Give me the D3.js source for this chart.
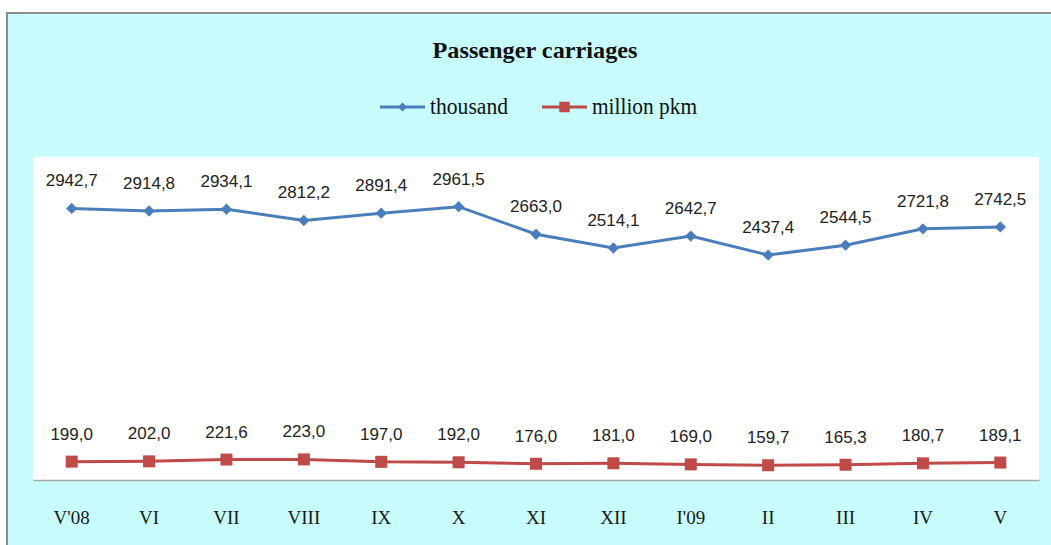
<!DOCTYPE html>
<html>
<head>
<meta charset="utf-8">
<script src="https://cdn.jsdelivr.net/npm/d3@7"></script>
<style>
  body { margin: 0; background: #fff; }
</style>
</head>
<body>
<div id="chart"></div>
<script>
// chart data
let months = ["V'08", "VI", "VII", "VIII", "IX", "X", "XI", "XII", "I'09", "II", "III", "IV", "V"];
let thousand = [2942.7, 2914.8, 2934.1, 2812.2, 2891.4, 2961.5, 2663.0, 2514.1, 2642.7, 2437.4, 2544.5, 2721.8, 2742.5];
let millionPkm = [199.0, 202.0, 221.6, 223.0, 197.0, 192.0, 176.0, 181.0, 169.0, 159.7, 165.3, 180.7, 189.1];
let seriesNames = ["thousand", "million pkm"];

let w = 1051;
let h = 545;
let blue = "#4a7ebb";
let red = "#be4b48";

let viz = d3.select("#chart")
  .append("svg")
  .attr("width", w)
  .attr("height", h)
  .style("display", "block");

// outer frame
viz.append("rect")
  .attr("x", 7).attr("y", 13)
  .attr("width", w + 10).attr("height", h + 10)
  .attr("fill", "#c8fbfb")
  .attr("stroke", "#8c8c8c")
  .attr("stroke-width", 2);

// plot area
let plot = { left: 33, right: 1039, top: 157, bottom: 480 };
viz.append("rect")
  .attr("x", plot.left).attr("y", plot.top)
  .attr("width", plot.right - plot.left)
  .attr("height", plot.bottom - plot.top)
  .attr("fill", "#ffffff");

let xScale = d3.scaleBand()
  .domain(months)
  .range([plot.left, plot.right]);
let cx = function (d) { return xScale(d) + xScale.bandwidth() / 2; };

let yScale = d3.scaleLinear()
  .domain([0, 3500])
  .range([plot.bottom, plot.top]);

// x axis (line only, labels below)
let xAxis = d3.axisBottom(xScale).tickSize(0).tickPadding(0);
let xAxisGroup = viz.append("g")
  .attr("transform", "translate(0," + plot.bottom + ")")
  .call(xAxis);
xAxisGroup.select(".domain").attr("stroke", "#a6a6a6").attr("stroke-width", 1.5);
xAxisGroup.selectAll("text")
  .attr("dy", 0)
  .attr("y", 44)
  .attr("font-family", "'Liberation Serif', 'Times New Roman', serif")
  .attr("font-size", 19)
  .attr("fill", "#1a1a1a");

// title
viz.append("text")
  .attr("x", 535).attr("y", 58)
  .attr("text-anchor", "middle")
  .attr("font-family", "'Liberation Serif', 'Times New Roman', serif")
  .attr("font-weight", "bold")
  .attr("font-size", 24)
  .attr("textLength", 205)
  .attr("lengthAdjust", "spacingAndGlyphs")
  .attr("fill", "#111")
  .text("Passenger  carriages");

// lines
let line = d3.line()
  .x(function (d, i) { return cx(months[i]); })
  .y(function (d) { return yScale(d); });

// diamond = square turned 45 degrees
function markerTransform(x, y, isDiamond) {
  return "translate(" + x + "," + y + ")" + (isDiamond ? " rotate(45)" : "");
}

function drawSeries(values, color, isDiamond) {
  let g = viz.append("g");
  g.append("path")
    .datum(values)
    .attr("d", line)
    .attr("fill", "none")
    .attr("stroke", color)
    .attr("stroke-width", 3);
  g.selectAll(".pt")
    .data(values)
    .enter()
    .append("path")
    .attr("d", d3.symbol().type(d3.symbolSquare).size(isDiamond ? 64 : 144))
    .attr("transform", function (d, i) {
      return markerTransform(cx(months[i]), yScale(d), isDiamond);
    })
    .attr("fill", color);
  g.selectAll(".lbl")
    .data(values)
    .enter()
    .append("text")
    .attr("x", function (d, i) { return cx(months[i]); })
    .attr("y", function (d) { return yScale(d) - 22; })
    .attr("text-anchor", "middle")
    .attr("font-family", "'Liberation Sans', Arial, sans-serif")
    .attr("font-size", 17)
    .attr("fill", "#222")
    .text(function (d) { return d.toFixed(1).replace(".", ","); });
}

drawSeries(thousand, blue, true);
drawSeries(millionPkm, red, false);

// legend
let legend = [
  { name: seriesNames[0], color: blue, diamond: true, x: 380, size: 40 },
  { name: seriesNames[1], color: red, diamond: false, x: 542, size: 110 }
];
let legendY = 107;
legend.forEach(function (l, i) {
  viz.append("line")
    .attr("x1", l.x).attr("x2", l.x + 45)
    .attr("y1", legendY).attr("y2", legendY)
    .attr("stroke", l.color)
    .attr("stroke-width", 3);
  viz.append("path")
    .attr("d", d3.symbol().type(d3.symbolSquare).size(l.size))
    .attr("transform", markerTransform(l.x + 22.5, legendY, l.diamond))
    .attr("fill", l.color);
  viz.append("text")
    .attr("x", l.x + 50).attr("y", legendY + 7)
    .attr("font-family", "'Liberation Serif', 'Times New Roman', serif")
    .attr("font-size", 23)
    .attr("textLength", i == 0 ? 78 : 105)
    .attr("lengthAdjust", "spacingAndGlyphs")
    .attr("fill", "#111")
    .text(l.name);
});
</script>
</body>
</html>
